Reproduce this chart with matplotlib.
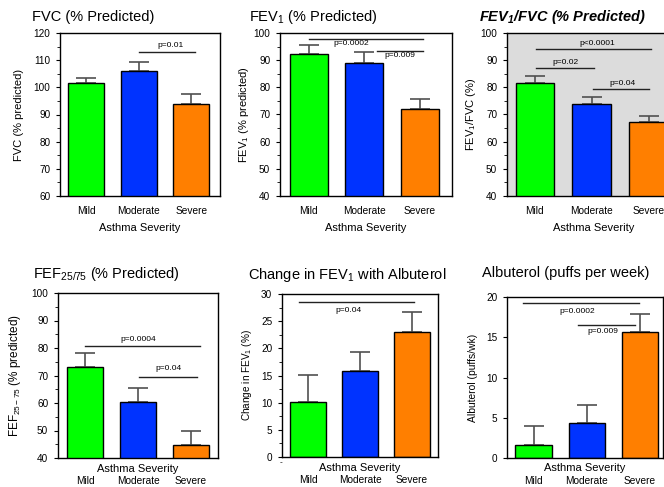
import matplotlib
matplotlib.use('Agg')
import matplotlib.pyplot as plt
from matplotlib.ticker import MultipleLocator

plt.rcParams['font.family'] = ['Liberation Sans', 'DejaVu Sans']
plt.rcParams['mathtext.fontset'] = 'custom'
plt.rcParams['mathtext.rm'] = 'Liberation Sans'
plt.rcParams['mathtext.it'] = 'Liberation Sans:italic'
plt.rcParams['mathtext.bf'] = 'Liberation Sans:bold:italic'

# data
groups = ['Mild', 'Moderate', 'Severe']
colors = ['#00ff00', '#0033ff', '#ff7f00']

fvc = [101.5, 106.0, 93.8]
fvc_err = [2.0, 3.3, 3.6]

fev1 = [92.1, 89.0, 72.0]
fev1_err = [3.6, 3.9, 3.6]

ratio = [81.6, 73.9, 67.3]
ratio_err = [2.4, 2.5, 2.3]

fef = [73.0, 60.5, 44.9]
fef_err = [5.1, 5.1, 5.1]

change = [10.2, 15.9, 23.0]
change_err = [4.9, 3.5, 3.6]

puffs = [1.65, 4.37, 15.7]
puffs_err = [2.35, 2.2, 2.2]

# p-value brackets: (x0, x1, line y, label, text x, text y)
fvc_p = [(1.0, 2.08, 113.1, 'p=0.01', 1.6, 115.5)]
fev1_p = [(0.0, 2.05, 97.9, 'p=0.0002', 0.76, 96.0),
          (1.22, 2.05, 93.5, 'p=0.009', 1.64, 91.7)]
ratio_p = [(0.02, 2.04, 94.2, 'p<0.0001', 1.1, 96.3),
           (0.02, 1.04, 87.1, 'p=0.02', 0.54, 89.2),
           (1.02, 2.0, 79.3, 'p=0.04', 1.54, 81.3)]
fef_p = [(0.0, 2.17, 80.9, 'p=0.0004', 1.0, 83.2),
         (1.02, 2.11, 69.3, 'p=0.04', 1.57, 72.6)]
change_p = [(-0.17, 2.03, 28.5, 'p=0.04', 0.77, 26.9)]
puffs_p = [(-0.2, 1.98, 19.2, 'p=0.0002', 0.82, 18.2),
           (0.84, 1.92, 16.5, 'p=0.009', 1.31, 15.75)]

W, H = 664, 487
fig = plt.figure(figsize=(W / 100, H / 100), dpi=100)


def px_axes(left, top, right, bottom):
    return fig.add_axes([left / W, 1 - bottom / H, (right - left) / W, (bottom - top) / H])


def draw(ax, vals, errs, ylim, major, minor, brackets, ylabel, ylab_size, ylab_pad, xlim,
         bottom_row=False, bg='white'):
    x = range(len(vals))
    ax.set_facecolor(bg)
    ax.errorbar(x, vals, yerr=[[0] * len(vals), errs], fmt='none', ecolor='#505050',
                elinewidth=1.2, capsize=7, capthick=1.2, zorder=1)
    ax.bar(x, vals, width=0.68, color=colors, edgecolor='black', linewidth=1.0, zorder=2)
    for x0, x1, y, lab, tx, ty in brackets:
        ax.plot([x0, x1], [y, y], color='#222222', lw=1.0, zorder=3)
        ax.text(tx, ty, lab, fontsize=6, ha='center', va='center')
    ax.set_ylim(*ylim)
    ax.set_xlim(*xlim)
    ax.yaxis.set_major_locator(MultipleLocator(major))
    if minor:
        ax.yaxis.set_minor_locator(MultipleLocator(minor))
    ax.tick_params(axis='y', labelsize=7.2, length=3, width=0.8, pad=4)
    ax.tick_params(axis='y', which='minor', length=2, width=0.6)
    ax.tick_params(axis='x', length=0, labelsize=7.3, pad=13 if bottom_row else 7)
    ax.set_xticks(list(x))
    ax.set_xticklabels(groups)
    for s in ax.spines.values():
        s.set_linewidth(1.0)
    ax.set_ylabel(ylabel, fontsize=ylab_size, labelpad=ylab_pad)
    if bottom_row:
        ax.text(0.5, -0.065, 'Asthma Severity', transform=ax.transAxes, fontsize=8,
                ha='center', va='center')
    else:
        ax.set_xlabel('Asthma Severity', fontsize=8, labelpad=5)


# top row
ax1 = px_axes(60, 33, 220, 196)
draw(ax1, fvc, fvc_err, (60, 120), 10, 5, fvc_p, 'FVC (% predicted)', 8, 7, (-0.5, 2.55))

ax2 = px_axes(280, 33, 452, 196)
draw(ax2, fev1, fev1_err, (40, 100), 10, 5, fev1_p, 'FEV$_1$ (% predicted)', 8, 2, (-0.52, 2.58))

ax3 = px_axes(507, 33, 680, 196)
draw(ax3, ratio, ratio_err, (40, 100), 10, 5, ratio_p, 'FEV$_1$/FVC (%)', 8, 2, (-0.49, 2.55),
     bg='#dcdcdc')

# bottom row
ax4 = px_axes(58, 293, 218, 458)
draw(ax4, fef, fef_err, (40, 100), 10, 5, fef_p, 'FEF$_{\\mathit{25-75}}$ (% predicted)', 8.5, 6,
     (-0.51, 2.51), bottom_row=True)

ax5 = px_axes(282, 294, 438, 457)
draw(ax5, change, change_err, (0, 30), 5, 2.5, change_p, 'Change in FEV$_1$ (%)', 7.2, 5,
     (-0.5, 2.5), bottom_row=True)
ax5.text(-0.52, -1.0, '-', fontsize=6, ha='center', va='center')

ax6 = px_axes(507, 297, 663, 458)
draw(ax6, puffs, puffs_err, (0, 20), 5, None, puffs_p, 'Albuterol (puffs/wk)', 7.4, 6,
     (-0.5, 2.44), bottom_row=True)

# titles placed in figure pixels
def title(x, y, s, **kw):
    fig.text(x / W, 1 - y / H, s, fontsize=10.5, ha='left', va='center', **kw)

title(32, 17, 'FVC (% Predicted)')
title(249, 17, 'FEV$_1$ (% Predicted)')
title(479, 17, 'FEV$_\\mathbf{1}$/FVC (% Predicted)', fontweight='bold', style='italic')
title(33, 274, 'FEF$_{25/75}$ (% Predicted)')
title(248, 275, 'Change in FEV$_1$ with Albuterol')
title(482, 273, 'Albuterol (puffs per week)')

fig.savefig('out.png', dpi=100)
